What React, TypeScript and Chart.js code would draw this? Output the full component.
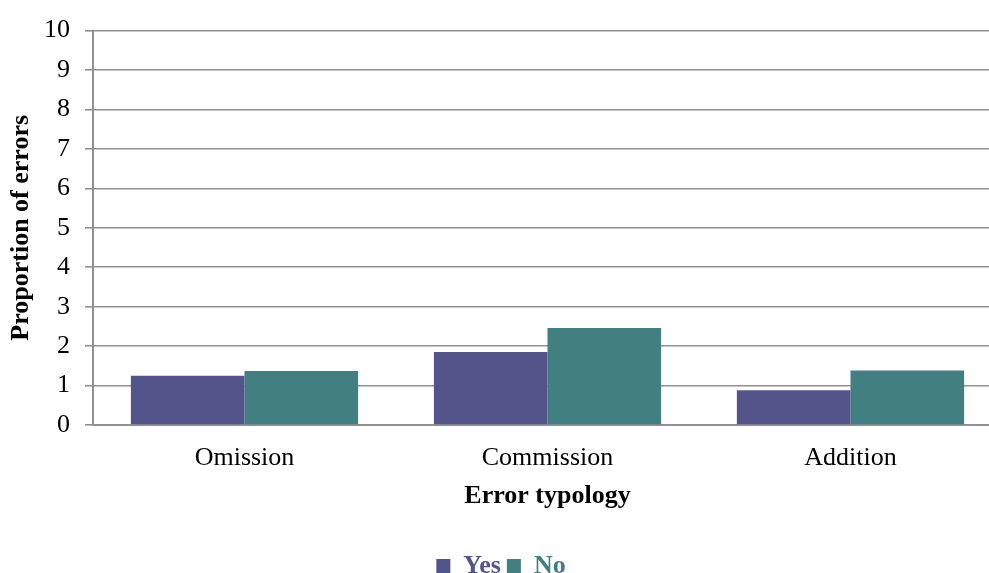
import { useEffect, useRef } from "react";
import { Chart, registerables } from "chart.js";
Chart.register(...registerables);

const categories = ["Omission", "Commission", "Addition"];
const seriesNames = ["Yes", "No"];
const yesValues = [1.25, 1.85, 0.88];
const noValues = [1.37, 2.46, 1.38];
const yTickValues = [0, 1, 2, 3, 4, 5, 6, 7, 8, 9, 10];
const seriesColors = ["#53548A", "#427F80"];

const SERIF = "'Liberation Serif', 'Times New Roman', serif";
const GRID = "#909090";

export default function App() {
  const ref = useRef<HTMLCanvasElement>(null);
  useEffect(() => {
    document.body.style.margin = "0";
    const chart = new Chart(ref.current!, {
      type: "bar",
      data: {
        labels: categories,
        datasets: [
          { label: seriesNames[0], data: yesValues, backgroundColor: seriesColors[0], categoryPercentage: 0.75, barPercentage: 1 },
          { label: seriesNames[1], data: noValues, backgroundColor: seriesColors[1], categoryPercentage: 0.75, barPercentage: 1 },
        ],
      },
      options: {
        animation: false,
        responsive: false,
        layout: { padding: { top: 27, right: 8, left: 0, bottom: 0 } },
        plugins: {
          tooltip: { enabled: false },
          legend: {
            position: "bottom",
            labels: {
              font: { family: SERIF, size: 26, weight: "bold" },
              boxWidth: 14,
              boxHeight: 14,
              padding: 6,
              generateLabels: (c: any) => {
                const items = Chart.defaults.plugins.legend.labels.generateLabels(c);
                return items.map((it: any) => ({ ...it, fontColor: it.fillStyle, lineWidth: 0, strokeStyle: "transparent" }));
              },
            },
          },
        },
        scales: {
          x: {
            grid: { display: false, drawTicks: false },
            border: { display: true, color: GRID, width: 2 },
            ticks: { font: { family: SERIF, size: 26 }, color: "#000", padding: 18 },
            title: {
              display: true,
              text: "Error typology",
              font: { family: SERIF, size: 26, weight: "bold" },
              color: "#000",
              padding: { top: 0, bottom: 35 },
            },
            afterFit: (s: any) => { s.height = 122; },
          },
          y: {
            min: 0,
            max: 10,
            afterBuildTicks: (s: any) => { s.ticks = yTickValues.map((v) => ({ value: v })); },
            grid: { color: GRID, lineWidth: 1.6, tickLength: 8, drawTicks: true },
            border: { display: true, color: GRID, width: 2 },
            ticks: { font: { family: SERIF, size: 26 }, color: "#000", padding: 15 },
            title: {
              display: true,
              text: "Proportion of errors",
              font: { family: SERIF, size: 26, weight: "bold" },
              color: "#000",
              padding: { top: 6, bottom: 0 },
            },
            afterFit: (s: any) => { s.width = 93; },
          },
        },
      },
    } as any);
    return () => chart.destroy();
  }, []);
  return (
    <div style={{ position: "fixed", left: 0, top: 0, width: 989, height: 573, overflow: "hidden", background: "#fff" }}>
      <canvas ref={ref} width={1010} height={589} style={{ display: "block" }} />
    </div>
  );
}
